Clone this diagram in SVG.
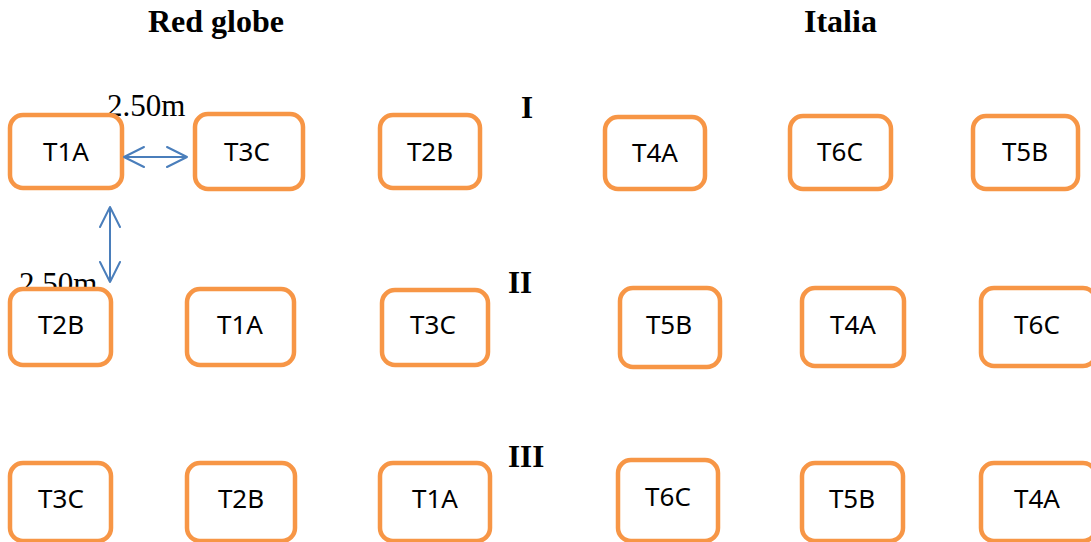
<svg xmlns="http://www.w3.org/2000/svg" width="1091" height="542" viewBox="0 0 1091 542">
  <style>
    .box { fill: #ffffff; stroke: #F79646; stroke-width: 4.5; }
    .lbl { font-family: "Noto Sans", "Open Sans", sans-serif; font-size: 26px; fill: #000000; text-anchor: middle; }
    .title { font-family: "Liberation Serif", serif; font-weight: bold; font-size: 32px; fill: #000000; }
    .num { font-family: "Liberation Serif", serif; font-weight: bold; font-size: 31px; fill: #000000; }
    .dim { font-family: "Liberation Serif", serif; font-size: 31px; fill: #000000; }
    .arr { fill: none; stroke: #4A7EBB; stroke-width: 2; stroke-linecap: round; stroke-linejoin: round; }
  </style>

  <!-- headings -->
  <text class="title" x="148" y="32">Red globe</text>
  <text class="title" x="804" y="32">Italia</text>

  <!-- block numbers -->
  <text class="num" x="521" y="118">I</text>
  <text class="num" x="508" y="293">II</text>
  <text class="num" x="508" y="467">III</text>

  <!-- spacing labels -->
  <text class="dim" x="107" y="116">2.50m</text>
  <text class="dim" x="19" y="294">2.50m</text>

  <!-- row I -->
  <g id="r1-t1a"><rect class="box" x="10" y="115" width="112" height="73" rx="13"/><text class="lbl" x="66" y="161">T1A</text></g>
  <g id="r1-t3c"><rect class="box" x="195" y="114" width="108" height="75" rx="13"/><text class="lbl" x="247" y="161">T3C</text></g>
  <g id="r1-t2b"><rect class="box" x="380" y="115" width="100" height="73" rx="13"/><text class="lbl" x="430" y="161">T2B</text></g>
  <g id="r1-t4a"><rect class="box" x="605" y="117" width="100" height="72" rx="13"/><text class="lbl" x="655" y="162">T4A</text></g>
  <g id="r1-t6c"><rect class="box" x="790" y="116" width="101" height="73" rx="13"/><text class="lbl" x="840" y="161">T6C</text></g>
  <g id="r1-t5b"><rect class="box" x="973" y="116" width="105" height="73" rx="13"/><text class="lbl" x="1025" y="161">T5B</text></g>

  <!-- row II -->
  <g id="r2-t2b"><rect class="box" x="10" y="289" width="101" height="76" rx="13"/><text class="lbl" x="61" y="334">T2B</text></g>
  <g id="r2-t1a"><rect class="box" x="187" y="289" width="107" height="76" rx="13"/><text class="lbl" x="240" y="334">T1A</text></g>
  <g id="r2-t3c"><rect class="box" x="382" y="290" width="106" height="75" rx="13"/><text class="lbl" x="433" y="334">T3C</text></g>
  <g id="r2-t5b"><rect class="box" x="620" y="288" width="100" height="79" rx="13"/><text class="lbl" x="669" y="334">T5B</text></g>
  <g id="r2-t4a"><rect class="box" x="802" y="288" width="102" height="78" rx="13"/><text class="lbl" x="853" y="334">T4A</text></g>
  <g id="r2-t6c"><rect class="box" x="981" y="288" width="115" height="78" rx="13"/><text class="lbl" x="1037" y="334">T6C</text></g>

  <!-- row III -->
  <g id="r3-t3c"><rect class="box" x="10" y="463" width="101" height="78" rx="13"/><text class="lbl" x="61" y="508">T3C</text></g>
  <g id="r3-t2b"><rect class="box" x="187" y="463" width="108" height="78" rx="13"/><text class="lbl" x="241" y="508">T2B</text></g>
  <g id="r3-t1a"><rect class="box" x="380" y="463" width="110" height="78" rx="13"/><text class="lbl" x="435" y="508">T1A</text></g>
  <g id="r3-t6c"><rect class="box" x="618" y="460" width="100" height="81" rx="13"/><text class="lbl" x="668" y="506">T6C</text></g>
  <g id="r3-t5b"><rect class="box" x="802" y="463" width="101" height="78" rx="13"/><text class="lbl" x="852" y="508">T5B</text></g>
  <g id="r3-t4a"><rect class="box" x="981" y="463" width="115" height="78" rx="13"/><text class="lbl" x="1037" y="508">T4A</text></g>

  <!-- double-headed spacing arrows -->
  <g id="connectors">
    <path class="arr" d="M124,157 H187 M144,147 L124,157 L144,167 M167,147 L187,157 L167,167"/>
    <path class="arr" d="M110,207 V282 M100,227 L110,207 L120,227 M100,262 L110,282 L120,262"/>
  </g>
</svg>
